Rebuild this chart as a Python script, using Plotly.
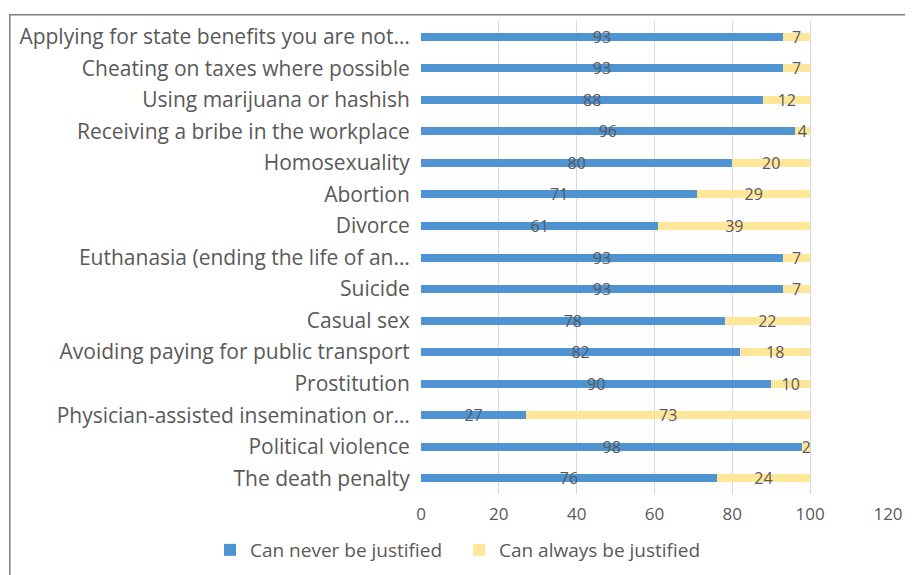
import plotly.graph_objects as go

categories = [
    "Applying for state benefits you are not…",
    "Cheating on taxes where possible",
    "Using marijuana or hashish",
    "Receiving a bribe in the workplace",
    "Homosexuality",
    "Abortion",
    "Divorce",
    "Euthanasia (ending the life of an…",
    "Suicide",
    "Casual sex",
    "Avoiding paying for public transport",
    "Prostitution",
    "Physician-assisted insemination or…",
    "Political violence",
    "The death penalty",
]
never = [93, 93, 88, 96, 80, 71, 61, 93, 93, 78, 82, 90, 27, 98, 76]
always = [7, 7, 12, 4, 20, 29, 39, 7, 7, 22, 18, 10, 73, 2, 24]
x_ticks = [0, 20, 40, 60, 80, 100, 120]

FONT = "Open Sans"
OFF = 8  # page body offset
W, H = 913 - OFF, 575 - OFF
L, T = 421 - OFF, 21 - OFF
R = W - (888 - OFF)
B = H - (494 - OFF)
pw, ph = W - L - R, H - T - B

fig = go.Figure()
for name, vals, col in [("Can never be justified", never, "#4E93D2"),
                        ("Can always be justified", always, "#FFE699")]:
    fig.add_trace(go.Bar(
        y=categories, x=vals, name=name, orientation="h",
        marker=dict(color=col, line=dict(width=0)),
        text=[str(v) for v in vals], textposition="inside",
        insidetextanchor="middle", constraintext="none", textangle=0,
        insidetextfont=dict(family=FONT, size=16, color="#595959"),
        cliponaxis=False, hoverinfo="skip",
    ))

def px_x(p):
    return (p - OFF - L) / pw

def px_y(p):
    return (H - B - (p - OFF)) / ph

fig.update_layout(
    width=W, height=H,
    margin=dict(l=L, r=R, t=T, b=B, autoexpand=False),
    barmode="stack", bargap=0.746,
    plot_bgcolor="white", paper_bgcolor="white",
    font=dict(family=FONT, color="#595959"),
    xaxis=dict(range=[0, 120], tickvals=x_ticks, showgrid=True,
               gridcolor="#D9D9D9", gridwidth=1, zeroline=False,
               showline=False, ticks="outside", ticklen=5,
               tickcolor="rgba(0,0,0,0)", automargin=False,
               tickfont=dict(family=FONT, size=17, color="#595959")),
    yaxis=dict(autorange="reversed", showgrid=False, zeroline=False,
               showline=False, ticks="outside", ticklen=6,
               tickcolor="rgba(0,0,0,0)", automargin=False,
               tickfont=dict(family=FONT, size=21, color="#595959")),
    legend=dict(orientation="h", xref="paper", x=px_x(210),
                xanchor="left", yref="paper", y=px_y(550),
                yanchor="middle", entrywidth=204, entrywidthmode="pixels",
                font=dict(family=FONT, size=19, color="#595959"),
                traceorder="normal"),
    showlegend=True,
    annotations=[dict(xref="paper", yref="paper", x=px_x(8.5), y=px_y(13.5),
                      xanchor="left", yanchor="top", text=" ",
                      showarrow=False, width=1000, height=700, borderpad=0,
                      bordercolor="#7F7F7F", borderwidth=1.5)],
)

fig.write_html("out.html")
